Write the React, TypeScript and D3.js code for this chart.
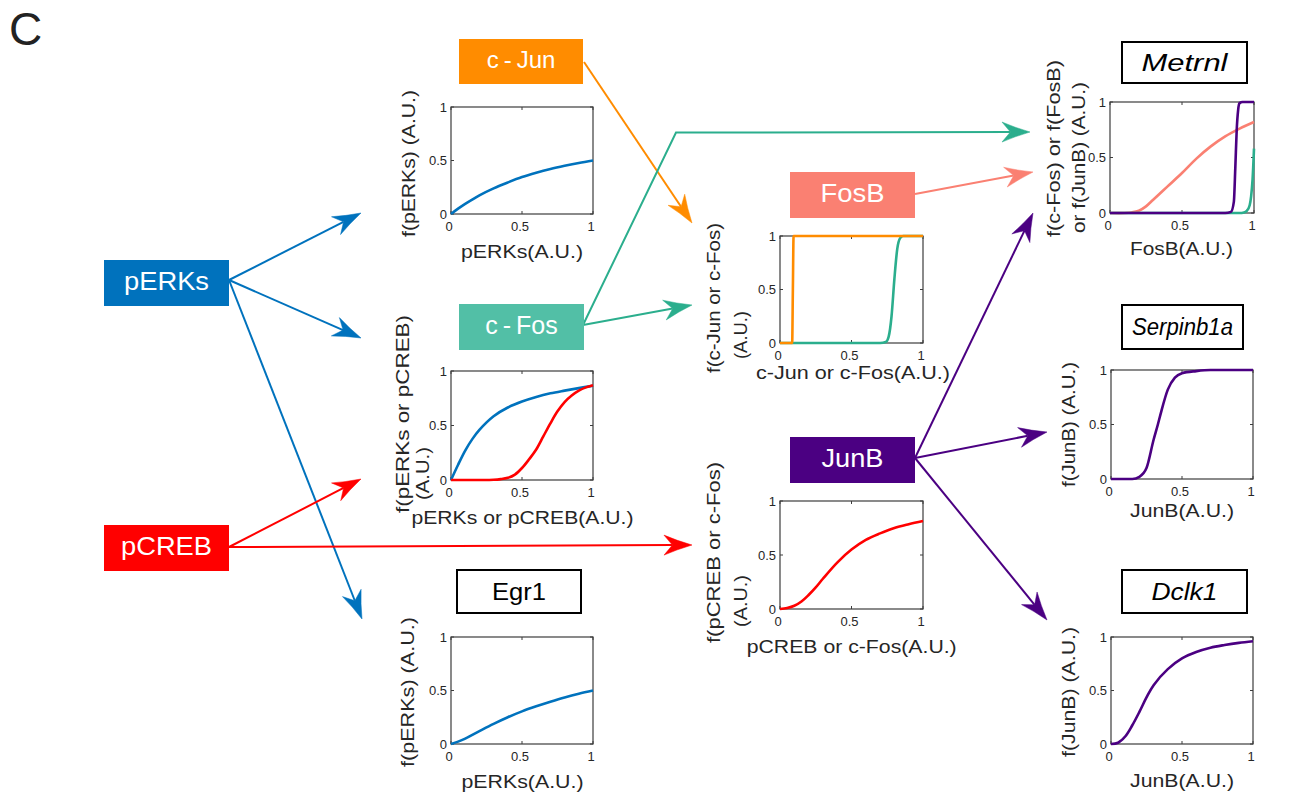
import React from 'react';
import * as d3 from 'd3';

// ---------------- DATA ----------------
const TICKS = [0, 0.5, 1];
const TICK_LABELS = ['0', '0.5', '1'];

// c-Jun response to pERKs
const cJunX = [0, 0.05, 0.1, 0.2, 0.3, 0.4, 0.5, 0.6, 0.7, 0.8, 0.9, 1];
const cJunY = [0, 0.05, 0.095, 0.175, 0.24, 0.295, 0.345, 0.385, 0.42, 0.45, 0.477, 0.5];

// Egr1 response to pERKs
const egrX = [0, 0.05, 0.1, 0.2, 0.3, 0.4, 0.5, 0.6, 0.7, 0.8, 0.9, 1];
const egrY = [0, 0.022, 0.05, 0.12, 0.188, 0.25, 0.305, 0.352, 0.395, 0.435, 0.47, 0.5];

// c-Fos response to pERKs (blue) and pCREB (red)
const cFosErkX = [0, 0.05, 0.1, 0.15, 0.2, 0.3, 0.4, 0.5, 0.6, 0.7, 0.8, 0.9, 1];
const cFosErkY = [0, 0.14, 0.27, 0.375, 0.46, 0.585, 0.665, 0.72, 0.762, 0.795, 0.82, 0.843, 0.865];
const cFosCrebX = [0, 0.1, 0.2, 0.3, 0.35, 0.4, 0.45, 0.5, 0.55, 0.6, 0.65, 0.7, 0.75, 0.8, 0.85, 0.9, 0.95, 1];
const cFosCrebY = [0, 0, 0, 0.002, 0.008, 0.02, 0.05, 0.11, 0.19, 0.28, 0.4, 0.52, 0.63, 0.715, 0.775, 0.82, 0.85, 0.87];

// FosB response to c-Jun (orange) and c-Fos (teal)
const fosBJunX = [0, 0.085, 0.09, 0.095, 1];
const fosBJunY = [0, 0, 0.5, 1, 1];
const fosBFosX = [0, 0.7, 0.74, 0.76, 0.78, 0.8, 0.82, 0.84, 0.86, 1];
const fosBFosY = [0, 0, 0.01, 0.06, 0.25, 0.6, 0.88, 0.98, 1, 1];

// JunB response to pCREB or c-Fos
const junBX = [0, 0.05, 0.1, 0.15, 0.2, 0.25, 0.3, 0.4, 0.5, 0.6, 0.7, 0.8, 0.9, 1];
const junBY = [0, 0.01, 0.03, 0.07, 0.13, 0.2, 0.28, 0.43, 0.55, 0.64, 0.7, 0.75, 0.785, 0.815];

// Metrnl response to FosB (salmon), c-Fos (teal), JunB (purple)
const metFosBX = [0, 0.1, 0.15, 0.2, 0.25, 0.3, 0.4, 0.5, 0.6, 0.7, 0.8, 0.9, 1];
const metFosBY = [0, 0, 0.005, 0.02, 0.06, 0.12, 0.24, 0.36, 0.49, 0.6, 0.69, 0.76, 0.82];
const metCFosX = [0, 0.9, 0.93, 0.95, 0.97, 0.98, 0.99, 1];
const metCFosY = [0, 0, 0.005, 0.02, 0.07, 0.15, 0.3, 0.58];
const metJunBX = [0, 0.8, 0.84, 0.86, 0.87, 0.88, 0.89, 0.9, 0.92, 1];
const metJunBY = [0, 0, 0.01, 0.1, 0.4, 0.75, 0.93, 0.99, 1, 1];

// Serpinb1a response to JunB
const serpX = [0, 0.15, 0.2, 0.25, 0.3, 0.33, 0.35, 0.4, 0.45, 0.5, 0.6, 0.7, 1];
const serpY = [0, 0, 0.02, 0.1, 0.36, 0.5, 0.6, 0.82, 0.93, 0.97, 0.99, 1, 1];

// Dclk1 response to JunB
const dclkX = [0, 0.05, 0.1, 0.15, 0.2, 0.25, 0.3, 0.4, 0.5, 0.6, 0.7, 0.8, 0.9, 1];
const dclkY = [0, 0.012, 0.07, 0.175, 0.3, 0.435, 0.55, 0.7, 0.8, 0.86, 0.9, 0.925, 0.945, 0.96];

// ---------------- STYLE ----------------
const FONT = "'Liberation Sans', Arial, Helvetica, sans-serif";
const BLUE = '#0072BD';
const RED = '#FF0000';
const ORANGE = '#FF8C00';
const TEAL = '#2BAE8D';
const TEAL_BOX = '#52BFA6';
const SALMON = '#FA8072';
const PURPLE = '#4B0082';
const AXIS = '#3c3c3c';
const TXT = '#262626';

type Series = { x: number[]; y: number[]; color: string; smooth?: boolean };
type Box = { x0: number; x1: number; y0: number; y1: number };
type YLine = { text: string; bx: number; cy: number; len: number };
type PlotCfg = {
  box: Box;
  series: Series[];
  xLabel: { text: string; cx: number; by: number; len: number };
  yLines: YLine[];
};

const plots: PlotCfg[] = [
  {
    box: { x0: 451, x1: 593, y0: 107, y1: 214 },
    series: [{ x: cJunX, y: cJunY, color: BLUE, smooth: true }],
    xLabel: { text: 'pERKs(A.U.)', cx: 522, by: 257.5, len: 122 },
    yLines: [{ text: 'f(pERKs) (A.U.)', bx: 414.5, cy: 163.5, len: 147 }],
  },
  {
    box: { x0: 780, x1: 923, y0: 236, y1: 343 },
    series: [
      { x: fosBFosX, y: fosBFosY, color: TEAL },
      { x: fosBJunX, y: fosBJunY, color: ORANGE },
    ],
    xLabel: { text: 'c-Jun or c-Fos(A.U.)', cx: 853, by: 379, len: 194 },
    yLines: [
      { text: 'f(c-Jun or c-Fos)', bx: 720, cy: 298, len: 150 },
      { text: '(A.U.)', bx: 746.5, cy: 335, len: 48 },
    ],
  },
  {
    box: { x0: 1110, x1: 1254, y0: 102, y1: 213 },
    series: [
      { x: metFosBX, y: metFosBY, color: SALMON, smooth: true },
      { x: metCFosX, y: metCFosY, color: TEAL },
      { x: metJunBX, y: metJunBY, color: PURPLE },
    ],
    xLabel: { text: 'FosB(A.U.)', cx: 1181.5, by: 255, len: 103 },
    yLines: [
      { text: 'f(c-Fos) or f(FosB)', bx: 1060, cy: 148.5, len: 177 },
      { text: 'or f(JunB) (A.U.)', bx: 1084.5, cy: 157.5, len: 151 },
    ],
  },
  {
    box: { x0: 451, x1: 593, y0: 371, y1: 480 },
    series: [
      { x: cFosErkX, y: cFosErkY, color: BLUE, smooth: true },
      { x: cFosCrebX, y: cFosCrebY, color: RED, smooth: true },
    ],
    xLabel: { text: 'pERKs or pCREB(A.U.)', cx: 522.5, by: 524, len: 222 },
    yLines: [
      { text: 'f(pERKs or pCREB)', bx: 409, cy: 414, len: 198 },
      { text: '(A.U.)', bx: 429, cy: 473.5, len: 53 },
    ],
  },
  {
    box: { x0: 780, x1: 923, y0: 501, y1: 609 },
    series: [{ x: junBX, y: junBY, color: RED, smooth: true }],
    xLabel: { text: 'pCREB or c-Fos(A.U.)', cx: 851.7, by: 653, len: 210 },
    yLines: [
      { text: 'f(pCREB or c-Fos)', bx: 720, cy: 552.5, len: 181 },
      { text: '(A.U.)', bx: 746.5, cy: 601, len: 52 },
    ],
  },
  {
    box: { x0: 1111, x1: 1253, y0: 370, y1: 479 },
    series: [{ x: serpX, y: serpY, color: PURPLE }],
    xLabel: { text: 'JunB(A.U.)', cx: 1182, by: 517, len: 104 },
    yLines: [{ text: 'f(JunB) (A.U.)', bx: 1074.5, cy: 424.5, len: 125 }],
  },
  {
    box: { x0: 1111, x1: 1253, y0: 637, y1: 744 },
    series: [{ x: dclkX, y: dclkY, color: PURPLE, smooth: true }],
    xLabel: { text: 'JunB(A.U.)', cx: 1182, by: 787, len: 104 },
    yLines: [{ text: 'f(JunB) (A.U.)', bx: 1074.5, cy: 692, len: 130 }],
  },
  {
    box: { x0: 451, x1: 593, y0: 637, y1: 744 },
    series: [{ x: egrX, y: egrY, color: BLUE, smooth: true }],
    xLabel: { text: 'pERKs(A.U.)', cx: 522.5, by: 788, len: 122 },
    yLines: [{ text: 'f(pERKs) (A.U.)', bx: 413.5, cy: 692, len: 150 }],
  },
];

type NodeCfg = { text: string; x: number; y: number; w: number; h: number; fill: string; len?: number; gap?: boolean; fs: number };
const colorNodes: NodeCfg[] = [
  { text: 'pERKs', x: 104, y: 260, w: 125, h: 46, fill: BLUE, len: 85, fs: 25 },
  { text: 'pCREB', x: 104, y: 525, w: 125, h: 46, fill: RED, len: 91, fs: 25 },
  { text: 'c-Jun', x: 459, y: 39, w: 124, h: 45, fill: ORANGE, gap: true, fs: 24 },
  { text: 'c-Fos', x: 459, y: 304, w: 125, h: 46, fill: TEAL_BOX, gap: true, fs: 25 },
  { text: 'FosB', x: 790, y: 172, w: 125, h: 46, fill: SALMON, len: 64, fs: 25 },
  { text: 'JunB', x: 790, y: 437, w: 125, h: 46, fill: PURPLE, len: 62, fs: 25 },
];

type GeneCfg = { text: string; x: number; y: number; w: number; h: number; len: number; italic: boolean };
const geneNodes: GeneCfg[] = [
  { text: 'Metrnl', x: 1121, y: 41, w: 127, h: 43, len: 86, italic: true },
  { text: 'Serpinb1a', x: 1121, y: 304, w: 123, h: 46, len: 101, italic: true },
  { text: 'Dclk1', x: 1121, y: 569, w: 127, h: 45, len: 66, italic: true },
  { text: 'Egr1', x: 456, y: 569, w: 126, h: 45, len: 54, italic: false },
];

type ArrowCfg = { pts: [number, number][]; color: string };
const arrows: ArrowCfg[] = [
  { pts: [[229, 280], [361, 213]], color: BLUE },
  { pts: [[229, 280], [361, 338]], color: BLUE },
  { pts: [[229, 280], [362, 619]], color: BLUE },
  { pts: [[229, 547], [361, 479]], color: RED },
  { pts: [[229, 547], [692, 545]], color: RED },
  { pts: [[584, 62], [692, 223]], color: ORANGE },
  { pts: [[583, 325], [676, 132.5], [1030, 132]], color: TEAL },
  { pts: [[583, 325], [692, 305]], color: TEAL },
  { pts: [[915, 194], [1033, 172]], color: SALMON },
  { pts: [[915, 458], [1033, 213]], color: PURPLE },
  { pts: [[915, 458], [1047, 432]], color: PURPLE },
  { pts: [[915, 458], [1047, 620]], color: PURPLE },
];

// ---------------- COMPONENTS ----------------
function Arrow({ a }: { a: ArrowCfg }) {
  const L = 28;
  const W = 10;
  const pts = a.pts;
  const tip = pts[pts.length - 1];
  const prev = pts[pts.length - 2];
  const dx = tip[0] - prev[0];
  const dy = tip[1] - prev[1];
  const len = Math.hypot(dx, dy);
  const ux = dx / len;
  const uy = dy / len;
  const nx = -uy;
  const ny = ux;
  const notch: [number, number] = [tip[0] - ux * L * 0.7, tip[1] - uy * L * 0.7];
  const shaft = [...pts.slice(0, -1), notch];
  const lineGen = d3.line();
  const b1 = [tip[0] - ux * L + nx * W, tip[1] - uy * L + ny * W];
  const b2 = [tip[0] - ux * L - nx * W, tip[1] - uy * L - ny * W];
  const c1 = [tip[0] - ux * L * 0.55 + nx * W * 0.45, tip[1] - uy * L * 0.55 + ny * W * 0.45];
  const c2 = [tip[0] - ux * L * 0.55 - nx * W * 0.45, tip[1] - uy * L * 0.55 - ny * W * 0.45];
  const head = `M${tip[0]},${tip[1]} Q${c1[0]},${c1[1]} ${b1[0]},${b1[1]} L${notch[0]},${notch[1]} L${b2[0]},${b2[1]} Q${c2[0]},${c2[1]} ${tip[0]},${tip[1]} Z`;
  return (
    <g>
      <path d={lineGen(shaft) || ''} fill="none" stroke={a.color} strokeWidth={2} strokeLinejoin="miter" />
      <path d={head} fill={a.color} stroke={a.color} strokeWidth={0.5} strokeLinejoin="round" />
    </g>
  );
}

function Plot({ p }: { p: PlotCfg }) {
  const b = p.box;
  const x = d3.scaleLinear().domain([0, 1]).range([b.x0, b.x1]);
  const y = d3.scaleLinear().domain([0, 1]).range([b.y1, b.y0]);
  const mk = (smooth?: boolean) =>
    d3
      .line<[number, number]>()
      .x((d) => x(d[0]))
      .y((d) => y(d[1]))
      .curve(smooth ? d3.curveCatmullRom.alpha(0.5) : d3.curveMonotoneX);
  const tl = 3;
  return (
    <g>
      <rect x={b.x0} y={b.y0} width={b.x1 - b.x0} height={b.y1 - b.y0} fill="white" stroke={AXIS} strokeWidth={1.2} />
      {TICKS.map((t, i) => (
        <g key={'t' + i} stroke={AXIS} strokeWidth={1}>
          <line x1={x(t)} x2={x(t)} y1={b.y1} y2={b.y1 - tl} />
          <line x1={x(t)} x2={x(t)} y1={b.y0} y2={b.y0 + tl} />
          <line x1={b.x0} x2={b.x0 + tl} y1={y(t)} y2={y(t)} />
          <line x1={b.x1} x2={b.x1 - tl} y1={y(t)} y2={y(t)} />
        </g>
      ))}
      {p.series.map((s, i) => (
        <path
          key={'s' + i}
          d={mk(s.smooth)(s.x.map((v, j) => [v, s.y[j]] as [number, number])) || ''}
          fill="none"
          stroke={s.color}
          strokeWidth={2.6}
          strokeLinejoin="round"
          strokeLinecap="butt"
        />
      ))}
      {TICKS.map((t, i) => (
        <text key={'xl' + i} x={x(t) - 2} y={b.y1 + 17} textAnchor="middle" fontSize={13} fill={TXT} fontFamily={FONT}>
          {TICK_LABELS[i]}
        </text>
      ))}
      {TICKS.map((t, i) => (
        <text key={'yl' + i} x={b.x0 - 4} y={y(t) + 4.5} textAnchor="end" fontSize={13} fill={TXT} fontFamily={FONT}>
          {TICK_LABELS[i]}
        </text>
      ))}
      <text
        x={p.xLabel.cx}
        y={p.xLabel.by}
        textAnchor="middle"
        fontSize={17.5}
        fill={TXT}
        fontFamily={FONT}
        textLength={p.xLabel.len}
        lengthAdjust="spacingAndGlyphs"
      >
        {p.xLabel.text}
      </text>
      {p.yLines.map((l, i) => (
        <text
          key={'yt' + i}
          transform={`translate(${l.bx},${l.cy}) rotate(-90)`}
          textAnchor="middle"
          fontSize={17.5}
          fill={TXT}
          fontFamily={FONT}
          textLength={l.len}
          lengthAdjust="spacingAndGlyphs"
        >
          {l.text}
        </text>
      ))}
    </g>
  );
}

function ColorNode({ n }: { n: NodeCfg }) {
  const cx = n.x + n.w / 2;
  const by = n.y + n.h / 2 + 0.358 * n.fs - 2;
  let content: React.ReactNode = n.text;
  if (n.gap) {
    const parts = n.text.split('-');
    content = (
      <>
        <tspan>{parts[0]}</tspan>
        <tspan dx={5}>-</tspan>
        <tspan dx={5}>{parts[1]}</tspan>
      </>
    );
  }
  return (
    <g>
      <rect x={n.x} y={n.y} width={n.w} height={n.h} fill={n.fill} />
      <text
        x={cx}
        y={by}
        textAnchor="middle"
        fontSize={n.fs}
        fill="white"
        fontFamily={FONT}
        {...(n.len ? { textLength: n.len, lengthAdjust: 'spacingAndGlyphs' } : {})}
      >
        {content}
      </text>
    </g>
  );
}

function GeneNode({ n }: { n: GeneCfg }) {
  const fs = 23;
  return (
    <g>
      <rect x={n.x + 1} y={n.y + 1} width={n.w - 2} height={n.h - 2} fill="white" stroke="black" strokeWidth={2} />
      <text
        x={n.x + n.w / 2}
        y={n.y + n.h / 2 + 0.358 * fs}
        textAnchor="middle"
        fontSize={fs}
        fontStyle={n.italic ? 'italic' : 'normal'}
        fill="black"
        fontFamily={FONT}
        textLength={n.len}
        lengthAdjust="spacingAndGlyphs"
      >
        {n.text}
      </text>
    </g>
  );
}

export default function App() {
  return (
    <svg
      width={1312}
      height={795}
      viewBox="0 0 1312 795"
      style={{ position: 'absolute', left: 0, top: 0, background: 'white' }}
    >
      <rect x={0} y={0} width={1312} height={795} fill="white" />
      <text x={9} y={45} fontSize={46} fill="#222" fontFamily={FONT}>
        C
      </text>
      {plots.map((p, i) => (
        <Plot key={i} p={p} />
      ))}
      {arrows.map((a, i) => (
        <Arrow key={i} a={a} />
      ))}
      {colorNodes.map((n, i) => (
        <ColorNode key={i} n={n} />
      ))}
      {geneNodes.map((n, i) => (
        <GeneNode key={i} n={n} />
      ))}
    </svg>
  );
}
